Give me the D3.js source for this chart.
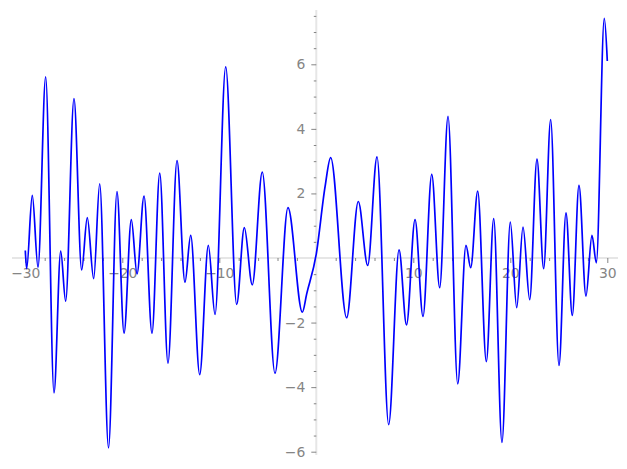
<!DOCTYPE html>
<html><head><meta charset="utf-8">
<script src="https://cdn.jsdelivr.net/npm/d3@7"></script>
<style>
body{margin:0;background:#fff;}
svg{display:block;}
.tick text{font-family:"DejaVu Sans",sans-serif;font-size:13.9px;fill:#858585;}
</style></head>
<body>
<svg id="c" width="627" height="469"></svg>
<script>
// Curve samples (local extrema) x and y
const xs = [-30, -29.86, -29.28, -28.69, -27.90, -27.04, -26.35, -25.84, -24.98, -24.19,
  -23.61, -22.95, -22.33, -21.42, -20.55, -19.82, -19.07, -18.48, -17.76, -16.94,
  -16.14, -15.29, -14.36, -13.54, -12.95, -12.02, -11.13, -10.44, -9.34, -8.21,
  -7.42, -6.60, -5.57, -4.26, -2.92, -1.44, -0.99, 0.0, 0.9, 1.48,
  3.13, 4.33, 5.30, 6.26, 7.46, 8.53, 9.30, 10.18, 11.00, 11.90,
  12.72, 13.58, 14.58, 15.43, 15.92, 16.64, 17.53, 18.29, 19.14, 20.00,
  20.66, 21.31, 22.00, 22.75, 23.44, 24.16, 25.02, 25.74, 26.39, 27.08,
  27.80, 28.42, 28.87, 29.69, 30];
const ys = [0.23, -0.33, 1.94, -0.29, 5.61, -4.18, 0.21, -1.34, 4.94, -0.37,
  1.25, -0.64, 2.30, -5.88, 2.06, -2.33, 1.19, -0.49, 1.92, -2.33,
  2.63, -3.26, 3.02, -0.75, 0.70, -3.61, 0.39, -1.75, 5.92, -1.44,
  0.94, -0.83, 2.66, -3.57, 1.56, -1.68, -1.11, 0.13, 2.2, 3.11,
  -1.85, 1.75, -0.23, 3.13, -5.16, 0.25, -2.07, 1.19, -1.81, 2.59,
  -0.92, 4.39, -3.90, 0.39, -0.30, 2.07, -3.21, 1.22, -5.71, 1.11,
  -1.54, 0.96, -1.29, 3.06, -0.33, 4.29, -3.33, 1.40, -1.78, 2.25,
  -1.18, 0.70, -0.15, 7.42, 6.1];

const xMajor = [-30, -20, -10, 10, 20, 30];
const yMajor = [-6, -4, -2, 2, 4, 6];
const xMinor = d3.range(-30, 31, 2).filter(v => v % 10 !== 0);
const yMinor = d3.range(-5.5, 7.51, 0.5).filter(v => v % 2 !== 0);

const svg = d3.select("#c");
const x = d3.scaleLinear().domain([-30, 30]).range([25.3, 607.3]);
const y = d3.scaleLinear().domain([-6, 6]).range([451.7, 64.3]);
const X0 = x(0), Y0 = y(0);

// axis lines
svg.append("line").attr("x1", 12).attr("x2", 618).attr("y1", Y0).attr("y2", Y0)
  .attr("stroke", "#e6e6e6").attr("stroke-width", 2);
svg.append("line").attr("x1", X0).attr("x2", X0).attr("y1", 10).attr("y2", 455)
  .attr("stroke", "#e6e6e6").attr("stroke-width", 2);

function styleAxis(g){
  g.select(".domain").remove();
  g.selectAll(".tick line").attr("stroke", "#666").attr("stroke-width", 0.8);
}
// x minor
svg.append("g").attr("transform", `translate(0,${Y0})`)
  .call(d3.axisBottom(x).tickValues(xMinor).tickSize(3).tickFormat(""))
  .call(styleAxis);
// x major
svg.append("g").attr("transform", `translate(0,${Y0})`)
  .call(d3.axisBottom(x).tickValues(xMajor).tickSize(5).tickPadding(5.5).tickFormat(d3.format("d")))
  .call(styleAxis);
// y minor
svg.append("g").attr("transform", `translate(${X0},0)`)
  .call(d3.axisLeft(y).tickValues(yMinor).tickSize(2.5).tickFormat(""))
  .call(styleAxis);
// y major
svg.append("g").attr("transform", `translate(${X0},0)`)
  .call(d3.axisLeft(y).tickValues(yMajor).tickSize(5).tickPadding(6).tickFormat(d3.format("d")))
  .call(styleAxis);

const pts = xs.map((v, i) => [v, ys[i]]);
const line = d3.line().x(d => x(d[0])).y(d => y(d[1])).curve(d3.curveMonotoneX);
svg.append("path").datum(pts).attr("d", line)
  .attr("fill", "none").attr("stroke", "#0000ff").attr("stroke-width", 1.7);
</script>
</body></html>
